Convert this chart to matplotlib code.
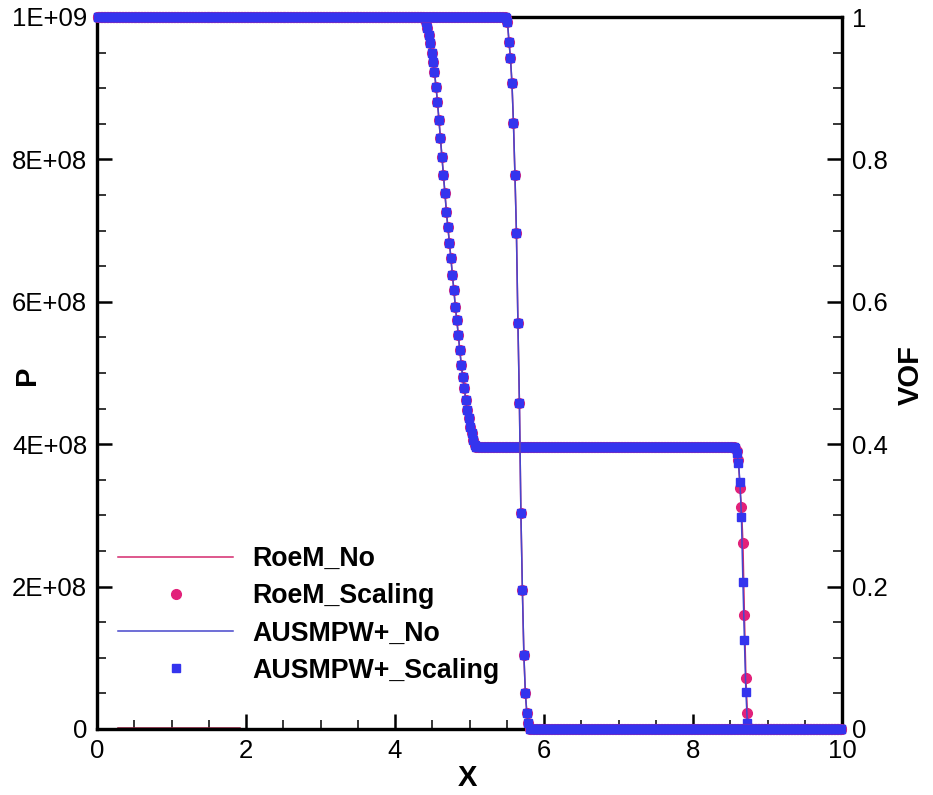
import numpy as np
import matplotlib
matplotlib.use("Agg")
import matplotlib.pyplot as plt
from matplotlib.ticker import MultipleLocator, FixedLocator, FixedFormatter

plt.rcParams['font.family'] = ['Liberation Sans', 'DejaVu Sans']

# ---------------- data ----------------
x_cells = np.round(np.arange(0.01, 10.0, 0.02), 2)   # cell centres

p_left = 1.0e9
p_mid = 3.96e8
p_right = 0.0

rare_x0 = 4.39
rare_p = [0.998e9, 0.993e9, 0.985e9, 0.975e9, 0.963e9, 0.949e9, 0.937e9,
          0.923e9, 0.902e9, 0.881e9, 0.855e9, 0.830e9, 0.803e9, 0.778e9,
          0.753e9, 0.726e9, 0.705e9, 0.683e9, 0.662e9, 0.638e9, 0.617e9,
          0.593e9, 0.574e9, 0.553e9, 0.532e9, 0.511e9, 0.494e9, 0.479e9,
          0.462e9, 0.448e9, 0.437e9, 0.424e9, 0.416e9, 0.406e9, 0.399e9]

shock_x0 = 8.57
roe_shock_p = [3.94e8, 3.90e8, 3.78e8, 3.38e8, 3.12e8, 2.61e8, 1.60e8,
               0.72e8, 0.22e8, 0.02e8]
ausm_shock_p = [3.94e8, 3.88e8, 3.74e8, 3.47e8, 2.98e8, 2.06e8, 1.25e8,
                0.52e8, 0.08e8]

vof_left = 1.0
vof_right = 0.0
vof_x0 = 5.49
vof_vals = [0.998, 0.993, 0.965, 0.942, 0.907, 0.851, 0.778, 0.697, 0.570,
            0.458, 0.303, 0.195, 0.104, 0.050, 0.022, 0.008]

stray_x = [0.3, 1.9]
stray_y = [0.0, 0.0]

p_ticks = [0, 2e8, 4e8, 6e8, 8e8, 1e9]
p_ticklabels = ["0", "2E+08", "4E+08", "6E+08", "8E+08", "1E+09"]
vof_ticks = [0, 0.2, 0.4, 0.6, 0.8, 1.0]
vof_ticklabels = ["0", "0.2", "0.4", "0.6", "0.8", "1"]
x_ticks = [0, 2, 4, 6, 8, 10]

labels = ["RoeM_No", "RoeM_Scaling", "AUSMPW+_No", "AUSMPW+_Scaling"]


def insert(y, x0, vals):
    i0 = int(np.searchsorted(x_cells, x0 - 1e-9))
    y[i0:i0 + len(vals)] = vals
    return y


def pressure(shock_vals):
    y = np.where(x_cells < rare_x0, p_left,
                 np.where(x_cells < shock_x0, p_mid, p_right)).astype(float)
    y = insert(y, rare_x0, rare_p)
    y = insert(y, shock_x0, shock_vals)
    return y


p_roe = pressure(roe_shock_p)
p_ausm = pressure(ausm_shock_p)
vof = np.where(x_cells < vof_x0, vof_left, vof_right).astype(float)
vof = insert(vof, vof_x0, vof_vals)

# ---------------- style ----------------
ROE = '#E2217A'
ROE_LINE = '#D42A6E'
AUSM = '#3434EE'
AUSM_LINE = '#4646CC'

fig = plt.figure(figsize=(9.33, 7.95), dpi=100)
ax = fig.add_axes([97 / 933, 1 - 729 / 795, (842 - 97) / 933, (729 - 17) / 795])
ax2 = ax.twinx()

lw = 1.1
ms_c = 7.0
ms_s = 6.0

ax.plot(stray_x, stray_y, color='#8A1F3C', lw=2.6, zorder=3, clip_on=False)

l1, = ax.plot(x_cells, p_roe, color=ROE_LINE, lw=lw, zorder=3, clip_on=False)
m1, = ax.plot(x_cells, p_roe, ls='none', marker='o', ms=ms_c, color=ROE,
              mec=ROE, zorder=4, clip_on=False)
l2, = ax.plot(x_cells, p_ausm, color=AUSM_LINE, lw=lw, zorder=5, clip_on=False)
m2, = ax.plot(x_cells, p_ausm, ls='none', marker='s', ms=ms_s, color=AUSM,
              mec=AUSM, zorder=6, clip_on=False)

ax2.plot(x_cells, vof, color=ROE_LINE, lw=lw, zorder=3, clip_on=False)
ax2.plot(x_cells, vof, ls='none', marker='o', ms=ms_c, color=ROE, mec=ROE,
         zorder=4, clip_on=False)
ax2.plot(x_cells, vof, color=AUSM_LINE, lw=lw, zorder=5, clip_on=False)
ax2.plot(x_cells, vof, ls='none', marker='s', ms=ms_s, color=AUSM, mec=AUSM,
         zorder=6, clip_on=False)

ax.set_xlim(0, 10)
ax.set_ylim(0, 1e9)
ax2.set_ylim(0, 1)

ax.xaxis.set_major_locator(FixedLocator(x_ticks))
ax.set_xticklabels([str(t) for t in x_ticks])
ax.xaxis.set_minor_locator(MultipleLocator(0.5))
ax.yaxis.set_major_locator(FixedLocator(p_ticks))
ax.yaxis.set_major_formatter(FixedFormatter(p_ticklabels))
ax.yaxis.set_minor_locator(MultipleLocator(5e7))
ax2.yaxis.set_major_locator(FixedLocator(vof_ticks))
ax2.yaxis.set_major_formatter(FixedFormatter(vof_ticklabels))
ax2.yaxis.set_minor_locator(MultipleLocator(0.05))

for a in (ax, ax2):
    for s in a.spines.values():
        s.set_linewidth(2.3)
        s.set_color('black')
    a.tick_params(which='major', direction='in', length=11, width=1.8,
                  labelsize=18.5, pad=7, colors='black')
    a.tick_params(which='minor', direction='in', length=6.5, width=1.1)
ax.tick_params(axis='y', which='both', right=False)
ax.tick_params(axis='x', which='both', top=False)
ax2.tick_params(axis='y', which='both', left=False)

ax.set_xlabel('X', fontsize=21, fontweight='bold')
ax.set_ylabel('P', fontsize=21, fontweight='bold')
ax2.set_ylabel('VOF', fontsize=21, fontweight='bold')
ax.xaxis.set_label_coords((467 - 97) / 745, (729 - 764) / 712)
ax.yaxis.set_label_coords((41 - 97) / 745, (729 - 375) / 712)
ax2.yaxis.set_label_coords((897 - 97) / 745, (729 - 375) / 712)

leg = ax.legend([l1, m1, l2, m2], labels, loc='upper left',
                bbox_to_anchor=(118 / 933, 1 - 546 / 795),
                bbox_transform=fig.transFigure, frameon=False,
                prop={'size': 19.3, 'weight': 'bold'}, numpoints=1,
                handlelength=4.3, handletextpad=0.7, labelspacing=0.42,
                borderpad=0, borderaxespad=0)
leg.set_zorder(10)

fig.savefig('out.png', dpi=100)
